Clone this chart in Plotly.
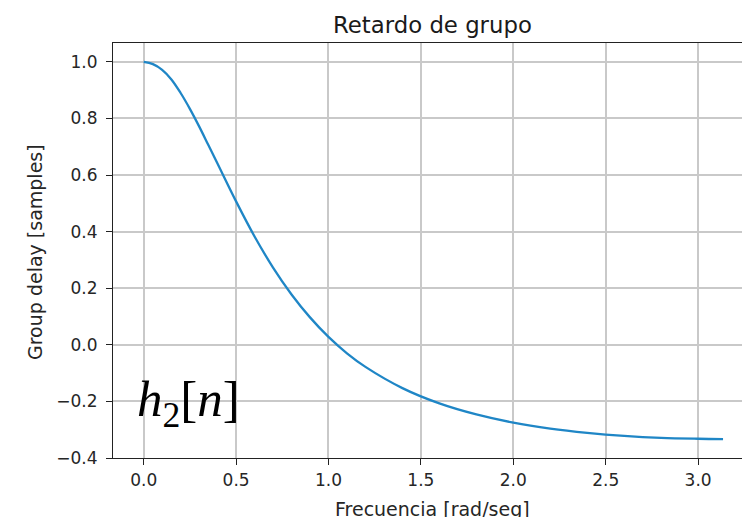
import plotly.graph_objects as go

# Values
freq = [0.0, 0.05, 0.1, 0.15, 0.2, 0.25, 0.3, 0.35, 0.4, 0.5, 0.6, 0.7, 0.8,
        0.9, 1.0, 1.1, 1.2, 1.4, 1.6, 1.8, 2.0, 2.2, 2.4, 2.6, 2.8, 3.0, 3.135]
delay = [1.0, 0.992, 0.972, 0.938, 0.89, 0.834, 0.772, 0.706, 0.64, 0.507,
         0.383, 0.273, 0.178, 0.097, 0.028, -0.03, -0.078, -0.153, -0.207,
         -0.246, -0.275, -0.296, -0.311, -0.322, -0.329, -0.332, -0.333]

x_ticks = [0.0, 0.5, 1.0, 1.5, 2.0, 2.5, 3.0]
x_tick_labels = ["0.0", "0.5", "1.0", "1.5", "2.0", "2.5", "3.0"]
y_ticks = [-0.4, -0.2, 0.0, 0.2, 0.4, 0.6, 0.8, 1.0]
y_tick_labels = ["\u22120.4", "\u22120.2", "0.0", "0.2", "0.4", "0.6", "0.8", "1.0"]

title_text = "Retardo de grupo"
x_label = "Frecuencia [rad/seg]"
y_label = "Group delay [samples]"

FONT = "DejaVu Sans"
TXT = "#262626"
AX = "#222222"
GRID = "#c9c9c9"

fig = go.Figure()
fig.add_trace(go.Scatter(
    x=freq, y=delay, mode="lines",
    line=dict(color="#1f86c6", width=2.3, shape="spline", smoothing=1.0),
    showlegend=False, hoverinfo="skip",
))

W, H = 742, 517
L, R, T, B = 113, 0, 43, 59

fig.update_layout(
    width=W, height=H,
    margin=dict(l=L, r=R, t=T, b=B, pad=0, autoexpand=False),
    plot_bgcolor="white", paper_bgcolor="white",
    font=dict(family=FONT, size=18, color=TXT),
    xaxis=dict(
        range=[-0.166, 3.2376], tickvals=x_ticks, ticktext=x_tick_labels,
        showgrid=True, gridcolor=GRID, gridwidth=1.5, zeroline=False,
        showline=True, linecolor=AX, linewidth=1.2, mirror=True,
        ticks="outside", ticklen=6, tickwidth=1.2, tickcolor=AX,
        tickfont=dict(family=FONT, size=17, color=TXT), automargin=False,
    ),
    yaxis=dict(
        range=[-0.4, 1.0667], tickvals=y_ticks, ticktext=y_tick_labels,
        showgrid=True, gridcolor=GRID, gridwidth=1.5, zeroline=False,
        showline=True, linecolor=AX, linewidth=1.2, mirror=False,
        ticks="outside", ticklen=6, tickwidth=1.2, tickcolor=AX,
        ticklabelstandoff=5,
        tickfont=dict(family=FONT, size=17, color=TXT), automargin=False,
    ),
)

pw = W - L - R
ph = H - T - B

def px_x(px):
    return (px - L) / pw

def px_y(py):
    return (H - B - py) / ph

fig.add_annotation(text=title_text, xref="paper", yref="paper",
                   x=px_x(432), y=px_y(25), xanchor="center", yanchor="middle",
                   showarrow=False, font=dict(family=FONT, size=22.8, color="#1a1a1a"))
fig.add_annotation(text=x_label, xref="paper", yref="paper",
                   x=px_x(432), y=px_y(509), xanchor="center", yanchor="middle",
                   showarrow=False, font=dict(family=FONT, size=19, color=TXT))
fig.add_annotation(text=y_label, xref="paper", yref="paper", textangle=-90,
                   x=px_x(35), y=px_y(252), xanchor="center", yanchor="middle",
                   showarrow=False, font=dict(family=FONT, size=19, color=TXT))
fig.add_annotation(text="<i>h</i><sub>2</sub>[<i>n</i>]", xref="x", yref="y",
                   x=0.24, y=-0.205, xanchor="center", yanchor="middle",
                   showarrow=False,
                   font=dict(family="Liberation Serif", size=51, color="black"))

fig.write_html(
    "out.html",
    config={"displayModeBar": False},
    post_script="document.body.style.margin='0';document.body.style.overflow='hidden';",
)
